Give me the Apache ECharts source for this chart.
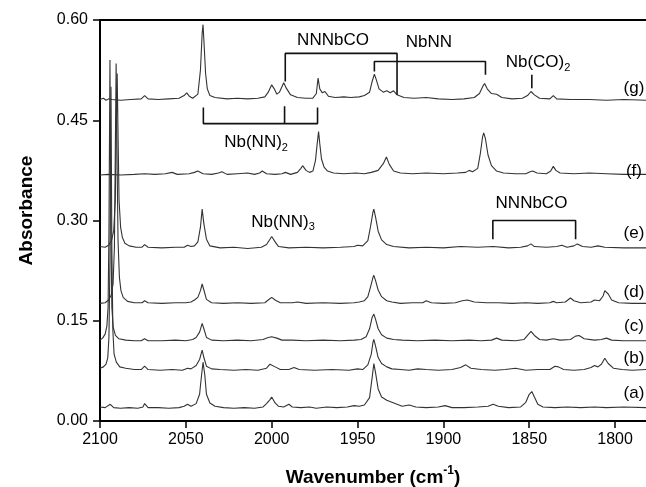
<!DOCTYPE html>
<html>
<head>
<meta charset="utf-8">
<script src="https://cdn.jsdelivr.net/npm/echarts@6/dist/echarts.min.js"></script>
<style>
html,body{margin:0;padding:0;background:#fff;}
#chart{width:646px;height:487px;}
</style>
</head>
<body>
<div id="chart"></div>
<script>
// ---- Data (wavenumber cm-1, absorbance) ----
const xTicks = [2100, 2050, 2000, 1950, 1900, 1850, 1800];
const yTicks = [0.00, 0.15, 0.30, 0.45, 0.60];

const traceA = [[2100,0.021],[2097,0.020],[2094,0.025],[2092,0.020],[2088,0.019],[2083,0.020],[2078,0.019],[2075,0.021],[2074,0.026],[2072,0.020],[2066,0.020],[2060,0.019],[2054,0.020],[2051,0.022],[2049,0.025],[2047,0.022],[2044,0.026],[2042,0.040],[2041,0.065],[2040,0.088],[2039,0.070],[2038,0.040],[2036,0.027],[2033,0.022],[2028,0.020],[2022,0.019],[2016,0.020],[2010,0.019],[2005,0.021],[2003,0.026],[2001,0.032],[2000,0.036],[1998,0.027],[1996,0.022],[1993,0.021],[1990,0.025],[1988,0.021],[1983,0.020],[1978,0.021],[1974,0.019],[1968,0.021],[1962,0.020],[1956,0.021],[1952,0.023],[1949,0.022],[1946,0.024],[1943,0.035],[1941.5,0.065],[1940.5,0.086],[1939.5,0.072],[1938,0.048],[1936,0.036],[1933,0.031],[1930,0.028],[1927,0.025],[1924,0.022],[1920,0.024],[1916,0.021],[1910,0.020],[1903,0.021],[1899,0.023],[1895,0.020],[1888,0.020],[1880,0.021],[1874,0.022],[1871,0.025],[1868,0.022],[1862,0.020],[1855,0.021],[1852,0.028],[1850,0.040],[1848.5,0.044],[1847,0.036],[1845,0.025],[1842,0.021],[1835,0.020],[1828,0.021],[1820,0.020],[1812,0.021],[1805,0.020],[1795,0.021],[1782,0.020]];

const traceB = [[2100,0.079],[2098,0.081],[2096.5,0.085],[2095.5,0.094],[2094.8,0.125],[2094.2,0.24],[2093.6,0.50],[2093.1,0.26],[2092.5,0.135],[2091.8,0.100],[2090.5,0.088],[2088.5,0.081],[2085,0.079],[2080,0.077],[2076,0.077],[2074,0.082],[2072,0.077],[2065,0.076],[2058,0.077],[2052,0.076],[2049,0.079],[2047,0.078],[2044,0.083],[2042,0.092],[2040.5,0.106],[2039.5,0.095],[2038,0.082],[2035,0.078],[2030,0.077],[2022,0.076],[2015,0.077],[2008,0.076],[2003,0.079],[2001,0.085],[2000,0.087],[1998,0.081],[1995,0.077],[1990,0.077],[1987,0.080],[1984,0.077],[1975,0.076],[1965,0.077],[1955,0.076],[1950,0.078],[1947,0.077],[1944,0.084],[1942,0.100],[1941,0.118],[1940.5,0.122],[1939.5,0.112],[1938,0.095],[1936,0.086],[1933,0.081],[1930,0.078],[1925,0.077],[1920,0.076],[1915,0.078],[1910,0.077],[1903,0.076],[1895,0.077],[1890,0.080],[1887,0.084],[1884,0.079],[1878,0.077],[1870,0.076],[1864,0.077],[1858,0.079],[1852,0.076],[1845,0.077],[1838,0.077],[1835,0.082],[1833,0.081],[1830,0.077],[1824,0.076],[1818,0.077],[1814,0.080],[1812,0.083],[1810,0.081],[1808,0.085],[1806,0.094],[1804,0.086],[1801,0.079],[1796,0.077],[1790,0.076],[1782,0.077]];

const traceC = [[2100,0.121],[2098.5,0.124],[2097,0.130],[2096,0.142],[2095.3,0.17],[2094.8,0.28],[2094.2,0.54],[2093.7,0.30],[2093.1,0.17],[2092.3,0.140],[2091,0.128],[2089,0.123],[2085,0.121],[2080,0.120],[2076,0.120],[2074,0.123],[2072,0.120],[2064,0.120],[2056,0.121],[2050,0.120],[2046,0.122],[2044,0.125],[2042,0.133],[2040.5,0.146],[2039.5,0.138],[2038,0.125],[2035,0.121],[2028,0.120],[2020,0.121],[2012,0.120],[2005,0.122],[2002,0.125],[2000,0.126],[1997,0.124],[1994,0.121],[1988,0.121],[1980,0.120],[1970,0.121],[1960,0.120],[1952,0.121],[1948,0.122],[1945,0.126],[1943,0.138],[1941.5,0.155],[1940.5,0.160],[1939.5,0.152],[1938,0.138],[1936,0.129],[1933,0.124],[1929,0.122],[1924,0.121],[1915,0.120],[1905,0.121],[1895,0.120],[1885,0.121],[1878,0.120],[1872,0.121],[1869,0.124],[1866,0.121],[1858,0.120],[1853,0.122],[1851,0.128],[1849,0.134],[1847,0.128],[1844,0.122],[1840,0.121],[1836,0.123],[1832,0.121],[1826,0.122],[1823,0.127],[1821,0.128],[1818,0.123],[1812,0.121],[1808,0.122],[1805,0.124],[1802,0.121],[1795,0.120],[1782,0.120]];

const traceD = [[2100,0.176],[2097,0.177],[2095,0.181],[2093.5,0.188],[2092.4,0.205],[2091.6,0.26],[2091.1,0.40],[2090.6,0.535],[2090.1,0.40],[2089.5,0.27],[2088.7,0.215],[2087.8,0.195],[2086.5,0.185],[2084,0.179],[2080,0.177],[2075.5,0.177],[2074,0.180],[2072,0.177],[2064,0.176],[2056,0.177],[2050,0.177],[2047,0.178],[2045,0.181],[2043,0.185],[2041.5,0.195],[2040.5,0.205],[2039.5,0.196],[2038,0.182],[2035,0.177],[2028,0.176],[2020,0.177],[2012,0.176],[2004,0.177],[2002,0.181],[2000,0.185],[1998,0.181],[1995,0.177],[1988,0.177],[1985,0.178],[1980,0.176],[1970,0.177],[1960,0.176],[1952,0.177],[1949,0.178],[1946,0.180],[1944,0.186],[1942.5,0.200],[1941,0.215],[1940.5,0.218],[1939.5,0.210],[1938,0.196],[1936,0.186],[1933,0.180],[1930,0.178],[1925,0.176],[1918,0.177],[1912,0.177],[1910,0.180],[1907,0.177],[1900,0.176],[1893,0.177],[1889,0.180],[1886,0.181],[1882,0.178],[1875,0.177],[1868,0.177],[1860,0.176],[1852,0.177],[1845,0.176],[1838,0.177],[1836,0.179],[1834,0.177],[1829,0.178],[1826,0.184],[1824,0.180],[1820,0.177],[1814,0.178],[1812,0.181],[1809,0.180],[1807,0.187],[1806,0.195],[1804,0.190],[1802,0.181],[1798,0.177],[1790,0.176],[1782,0.176]];

const traceE = [[2100,0.261],[2097,0.260],[2095,0.263],[2093.3,0.270],[2092,0.285],[2091.1,0.33],[2090.5,0.44],[2090.0,0.52],[2089.5,0.43],[2088.9,0.33],[2088,0.290],[2087,0.275],[2085.5,0.266],[2083,0.262],[2079,0.260],[2075.5,0.260],[2074,0.264],[2072,0.260],[2064,0.259],[2056,0.260],[2051,0.260],[2049,0.263],[2047,0.261],[2045,0.262],[2043,0.268],[2041.5,0.290],[2040.5,0.317],[2039.5,0.295],[2038,0.272],[2036,0.262],[2030,0.259],[2022,0.260],[2014,0.258],[2006,0.260],[2003,0.264],[2001,0.272],[2000,0.276],[1998,0.268],[1996,0.261],[1990,0.259],[1980,0.260],[1970,0.259],[1960,0.260],[1952,0.261],[1950,0.263],[1947,0.262],[1944,0.270],[1942.5,0.290],[1941,0.313],[1940.5,0.317],[1939.5,0.305],[1938,0.284],[1936,0.271],[1933,0.264],[1929,0.261],[1920,0.259],[1910,0.260],[1900,0.259],[1890,0.261],[1880,0.260],[1871,0.261],[1862,0.259],[1855,0.260],[1851,0.262],[1849,0.265],[1847,0.261],[1840,0.260],[1834,0.261],[1831,0.263],[1828,0.260],[1824,0.262],[1822,0.265],[1819,0.261],[1814,0.260],[1810,0.262],[1806,0.260],[1795,0.259],[1782,0.259]];

const traceF = [[2100,0.368],[2095,0.369],[2088,0.368],[2080,0.369],[2074,0.370],[2068,0.369],[2062,0.370],[2058,0.372],[2055,0.369],[2048,0.370],[2045,0.372],[2043,0.374],[2040,0.370],[2035,0.369],[2031,0.371],[2029,0.373],[2026,0.369],[2020,0.370],[2014,0.371],[2010,0.369],[2007,0.371],[2005.5,0.374],[2003,0.370],[1998,0.369],[1994,0.370],[1992,0.372],[1989,0.369],[1985,0.372],[1983,0.378],[1982,0.382],[1980,0.375],[1978,0.372],[1976,0.374],[1974.5,0.390],[1973.5,0.415],[1972.7,0.433],[1972,0.415],[1971,0.392],[1969.5,0.380],[1967.5,0.374],[1964,0.371],[1958,0.370],[1951,0.371],[1946,0.370],[1942,0.372],[1938,0.375],[1935,0.385],[1933.2,0.395],[1931.5,0.384],[1929,0.374],[1925,0.371],[1918,0.370],[1910,0.371],[1900,0.370],[1892,0.371],[1887,0.372],[1885,0.375],[1883,0.373],[1880,0.378],[1878.5,0.400],[1877.2,0.425],[1876.5,0.431],[1875.5,0.422],[1874,0.398],[1872,0.382],[1869,0.374],[1865,0.371],[1858,0.370],[1852,0.370],[1849.5,0.373],[1848,0.374],[1845.5,0.371],[1840,0.370],[1837.5,0.374],[1836,0.381],[1834.5,0.375],[1832,0.371],[1824,0.370],[1815,0.371],[1805,0.370],[1795,0.369],[1782,0.369]];

const traceG = [[2100,0.481],[2098,0.483],[2096.5,0.480],[2095,0.482],[2093,0.481],[2088,0.480],[2082,0.481],[2076,0.482],[2074,0.487],[2072,0.482],[2066,0.481],[2060,0.482],[2054,0.483],[2051,0.487],[2049.5,0.491],[2048,0.486],[2046,0.483],[2043,0.489],[2041.5,0.525],[2040.5,0.580],[2040,0.593],[2039.5,0.570],[2038.5,0.520],[2037.5,0.497],[2036,0.487],[2033,0.484],[2026,0.482],[2020,0.483],[2014,0.482],[2008,0.483],[2004,0.485],[2002,0.492],[2000,0.503],[1998.5,0.497],[1997,0.489],[1995.5,0.492],[1993,0.506],[1991.5,0.498],[1989,0.488],[1985,0.484],[1980,0.483],[1976,0.483],[1974,0.490],[1973,0.513],[1972,0.497],[1970.5,0.491],[1969,0.493],[1967,0.486],[1963,0.484],[1958,0.485],[1954,0.484],[1949,0.485],[1946,0.487],[1943,0.492],[1941.5,0.508],[1940.2,0.519],[1939,0.510],[1937.5,0.497],[1935,0.492],[1933,0.494],[1931,0.491],[1929,0.494],[1927,0.488],[1923,0.484],[1917,0.483],[1910,0.484],[1903,0.482],[1895,0.481],[1888,0.482],[1882,0.484],[1879,0.490],[1877,0.501],[1876,0.505],[1874.5,0.497],[1872,0.490],[1869,0.489],[1866,0.484],[1860,0.482],[1854,0.483],[1851,0.487],[1849,0.493],[1847,0.488],[1844,0.483],[1838,0.482],[1836,0.487],[1834,0.482],[1826,0.481],[1815,0.481],[1805,0.480],[1795,0.481],[1782,0.480]];

const traces = [traceA, traceB, traceC, traceD, traceE, traceF, traceG];
const traceNames = ['(a)', '(b)', '(c)', '(d)', '(e)', '(f)', '(g)'];
const traceLabelPos = [[1789, 0.042], [1789, 0.094], [1789, 0.141], [1789, 0.193], [1789, 0.281], [1789, 0.373], [1789, 0.498]];

// assignment brackets (wavenumber, absorbance)
const bracketNNNbCOTop = [[1992.1, 0.508], [1992.1, 0.550], [1927, 0.550], [1927, 0.488]];
const bracketNbNN = [[1940.2, 0.523], [1940.2, 0.538], [1875.5, 0.538], [1875.5, 0.518]];
const bracketNbCO2 = [[1848.5, 0.518], [1848.5, 0.498]];
const bracketNbNN2 = [[2039.8, 0.469], [2039.8, 0.445], [1973.3, 0.445], [1973.3, 0.469]];
const bracketNbNN2Mid = [[1992.5, 0.471], [1992.5, 0.445]];
const bracketNNNbCOLow = [[1871.2, 0.272], [1871.2, 0.300], [1823, 0.300], [1823, 0.272]];
const brackets = [bracketNNNbCOTop, bracketNbNN, bracketNbCO2, bracketNbNN2, bracketNbNN2Mid, bracketNNNbCOLow];

const annotationTexts = ['{m|NNNbCO}', '{m|NbNN}', '{m|Nb(CO)}{sub|2}', '{m|Nb(NN)}{sub|2}', '{m|Nb(NN)}{sub|3}', '{m|NNNbCO}'];
const annotationPos = [[1964.3, 0.570], [1908.4, 0.566], [1844.9, 0.537], [2009.1, 0.417], [1993.4, 0.298], [1848.7, 0.325]];

// ---- Chart ----
const chart = echarts.init(document.getElementById('chart'), null, {renderer: 'canvas'});
const FONT = '"Liberation Sans", Arial, Helvetica, sans-serif';
const LINE_COLOR = '#333333';

const series = [];
traces.forEach((t, i) => {
  series.push({
    type: 'line', name: traceNames[i], data: t,
    showSymbol: false, symbol: 'none', smooth: false, clip: true,
    lineStyle: {color: LINE_COLOR, width: 1.1},
    silent: true, z: 2
  });
});
brackets.forEach(b => {
  series.push({
    type: 'line', data: b, showSymbol: false, symbol: 'none',
    lineStyle: {color: '#111', width: 1.6}, silent: true, z: 3
  });
});
series.push({
  type: 'scatter', symbolSize: 0, silent: true, z: 5,
  itemStyle: {opacity: 1},
  data: annotationPos.map((p, i) => ({value: p, name: annotationTexts[i]})),
  label: {
    show: true, position: 'inside', formatter: p => p.name,
    color: '#000', textBorderWidth: 0, opacity: 1,
    rich: {
      m: {fontSize: 17, fontFamily: FONT, color: '#000', lineHeight: 22, textBorderWidth: 0},
      sub: {fontSize: 11, fontFamily: FONT, color: '#000', verticalAlign: 'bottom', lineHeight: 11, textBorderWidth: 0}
    }
  }
});
series.push({
  type: 'scatter', symbolSize: 0, silent: true, z: 5,
  itemStyle: {opacity: 1},
  data: traceLabelPos.map((p, i) => ({value: p, name: traceNames[i]})),
  label: {show: true, position: 'inside', formatter: p => p.name, opacity: 1,
    fontSize: 17, fontFamily: FONT, color: '#000', textBorderWidth: 0}
});

chart.setOption({
  animation: false,
  backgroundColor: '#fff',
  grid: {left: 100, top: 20, right: 0, bottom: 66, outerBoundsMode: 'none', containLabel: false},
  xAxis: [{
    type: 'value', inverse: true, min: 1782, max: 2100,
    name: '{b|Wavenumber (cm}{s|-1}{b|)}', nameLocation: 'middle', nameGap: 44,
    nameTextStyle: {rich: {
      b: {fontSize: 19, fontWeight: 'bold', fontFamily: FONT, color: '#000', lineHeight: 26},
      s: {fontSize: 12, fontWeight: 'bold', fontFamily: FONT, color: '#000', verticalAlign: 'top', lineHeight: 12}
    }},
    axisLine: {show: true, lineStyle: {color: '#000', width: 2}},
    axisTick: {show: true, inside: false, length: 7, lineStyle: {color: '#000', width: 1.5}, customValues: xTicks},
    axisLabel: {show: true, customValues: xTicks, fontSize: 16, fontFamily: FONT, color: '#000', margin: 11,
      formatter: v => String(v)},
    splitLine: {show: false}
  }, {
    type: 'value', inverse: true, min: 1782, max: 2100, position: 'top',
    axisLine: {show: true, onZero: false, lineStyle: {color: '#000', width: 2}},
    axisTick: {show: false}, axisLabel: {show: false}, splitLine: {show: false}
  }],
  yAxis: {
    type: 'value', min: 0, max: 0.6, interval: 0.15,
    name: 'Absorbance', nameLocation: 'middle', nameGap: 64,
    nameTextStyle: {fontSize: 19, fontWeight: 'bold', fontFamily: FONT, color: '#000', padding: [0, 0, 0, 20]},
    axisLine: {show: true, onZero: false, lineStyle: {color: '#000', width: 2}},
    axisTick: {show: true, inside: false, length: 7, lineStyle: {color: '#000', width: 1.5}},
    axisLabel: {fontSize: 16, fontFamily: FONT, color: '#000', margin: 12,
      formatter: v => yTicks.includes(Math.round(v * 100) / 100) ? v.toFixed(2) : ''},
    splitLine: {show: false}
  },
  series: series
});
</script>
</body>
</html>
